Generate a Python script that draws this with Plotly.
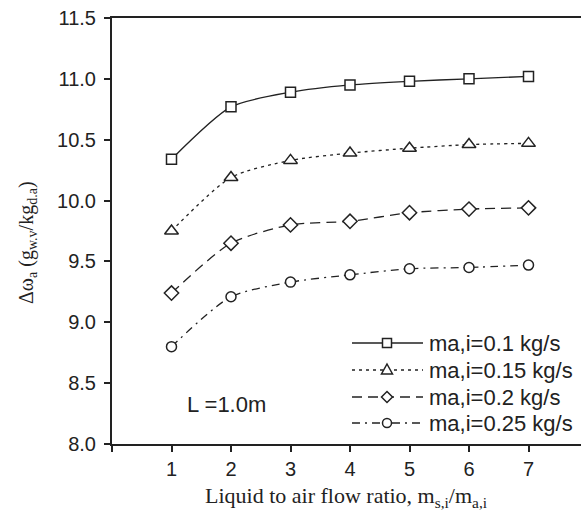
import plotly.graph_objects as go

# Liquid-to-air flow ratio
ratio = [1, 2, 3, 4, 5, 6, 7]

# Moisture removal for each air mass flow rate
labels = ["ma,i=0.1 kg/s", "ma,i=0.15 kg/s", "ma,i=0.2 kg/s", "ma,i=0.25 kg/s"]
dw_010 = [10.34, 10.77, 10.89, 10.95, 10.98, 11.00, 11.02]
dw_015 = [9.75, 10.19, 10.33, 10.39, 10.43, 10.46, 10.47]
dw_020 = [9.24, 9.65, 9.80, 9.83, 9.90, 9.93, 9.94]
dw_025 = [8.80, 9.21, 9.33, 9.39, 9.44, 9.45, 9.47]

y_ticks = [8.0, 8.5, 9.0, 9.5, 10.0, 10.5, 11.0, 11.5]
x_ticks = [0, 1, 2, 3, 4, 5, 6, 7]
x_ticktext = ["", "1", "2", "3", "4", "5", "6", "7"]

INK = "#222222"
W, H = 581, 517
L_M, R_M, T_M, B_M = 112, 0, 18, 73
PW, PH = W - L_M - R_M, H - T_M - B_M

styles = [
    dict(symbol="square", size=10, dash="solid"),
    dict(symbol="triangle-up", size=12, dash="3px,4px"),
    dict(symbol="diamond", size=11, dash="10px,6px"),
    dict(symbol="circle", size=10, dash="8px,5px,2px,5px"),
]
series = [dw_010, dw_015, dw_020, dw_025]

fig = go.Figure()
for vals, st, name in zip(series, styles, labels):
    fig.add_trace(go.Scatter(
        x=ratio, y=vals, name=name, mode="lines+markers",
        line=dict(color=INK, width=1.3, dash=st["dash"], shape="spline", smoothing=0.7),
        marker=dict(symbol=st["symbol"], size=st["size"], color="white",
                    line=dict(color=INK, width=1.5)),
        showlegend=False,
    ))


def px_x(px):
    return (px - L_M) / PW


def px_y(py):
    return (H - B_M - py) / PH


# Hand-laid legend: long sample lines with a marker in the middle
shapes = []
annotations = []
legend_rows = [343, 370, 397, 423]
x0, x1, xm = 352, 423, 387
for row_y, st, name in zip(legend_rows, styles, labels):
    shapes.append(dict(type="line", xref="paper", yref="paper",
                       x0=px_x(x0), x1=px_x(x1), y0=px_y(row_y), y1=px_y(row_y),
                       line=dict(color=INK, width=1.3, dash=st["dash"])))
    r = 4.5
    sym = st["symbol"]
    if sym == "square":
        shapes.append(dict(type="rect", xref="paper", yref="paper",
                           x0=px_x(xm - r), x1=px_x(xm + r), y0=px_y(row_y - r), y1=px_y(row_y + r),
                           fillcolor="white", line=dict(color=INK, width=1.5)))
    elif sym == "circle":
        shapes.append(dict(type="circle", xref="paper", yref="paper",
                           x0=px_x(xm - r), x1=px_x(xm + r), y0=px_y(row_y - r), y1=px_y(row_y + r),
                           fillcolor="white", line=dict(color=INK, width=1.5)))
    elif sym == "triangle-up":
        pts = [(xm, row_y - 6), (xm + 5.5, row_y + 4), (xm - 5.5, row_y + 4)]
        path = "M " + " L ".join(f"{px_x(a)},{px_y(b)}" for a, b in pts) + " Z"
        shapes.append(dict(type="path", xref="paper", yref="paper", path=path,
                           fillcolor="white", line=dict(color=INK, width=1.5)))
    else:
        pts = [(xm, row_y - 5.5), (xm + 5.5, row_y), (xm, row_y + 5.5), (xm - 5.5, row_y)]
        path = "M " + " L ".join(f"{px_x(a)},{px_y(b)}" for a, b in pts) + " Z"
        shapes.append(dict(type="path", xref="paper", yref="paper", path=path,
                           fillcolor="white", line=dict(color=INK, width=1.5)))
    annotations.append(dict(xref="paper", yref="paper", x=px_x(427), y=px_y(row_y),
                            xanchor="left", yanchor="middle", showarrow=False, text=name,
                            font=dict(family="Liberation Sans, Arial", size=22, color=INK)))

annotations.append(dict(xref="paper", yref="paper", x=px_x(185), y=px_y(404),
                        xanchor="left", yanchor="middle", showarrow=False, text="L =1.0m",
                        font=dict(family="Liberation Sans, Arial", size=22, color=INK)))

# Axis titles
annotations.append(dict(xref="paper", yref="paper", x=px_x(346), y=px_y(497),
                        xanchor="center", yanchor="middle", showarrow=False,
                        text="Liquid to air flow ratio, m<sub>s,i</sub>/m<sub>a,i</sub>",
                        font=dict(family="Liberation Serif, Times New Roman", size=22, color=INK)))
annotations.append(dict(xref="paper", yref="paper", x=px_x(28), y=px_y(243),
                        xanchor="center", yanchor="middle", showarrow=False, textangle=-90,
                        text="Δω<sub>a</sub> (g<sub>w.v</sub>/kg<sub>d.a</sub>)",
                        font=dict(family="Liberation Serif, Times New Roman", size=20, color=INK)))

fig.update_layout(
    width=W, height=H,
    margin=dict(l=L_M, r=R_M, t=T_M, b=B_M),
    paper_bgcolor="white", plot_bgcolor="white",
    shapes=shapes, annotations=annotations,
    font=dict(family="Liberation Sans, Arial", size=20, color=INK),
)
fig.update_xaxes(
    range=[0, PW / 59.5], tickvals=x_ticks, ticktext=x_ticktext,
    showgrid=False, zeroline=False, showline=True, linecolor=INK, linewidth=2,
    mirror=True, ticks="outside", ticklen=6, tickwidth=1.5, tickcolor=INK,
    tickfont=dict(size=20, color=INK),
)
fig.update_yaxes(
    range=[8.0, 11.5], tickvals=y_ticks, tickformat=".1f",
    showgrid=False, zeroline=False, showline=True, linecolor=INK, linewidth=2,
    ticks="outside", ticklen=6, tickwidth=1.5, tickcolor=INK, ticklabelstandoff=4,
    tickfont=dict(size=20, color=INK),
)

fig.write_html("out.html")
